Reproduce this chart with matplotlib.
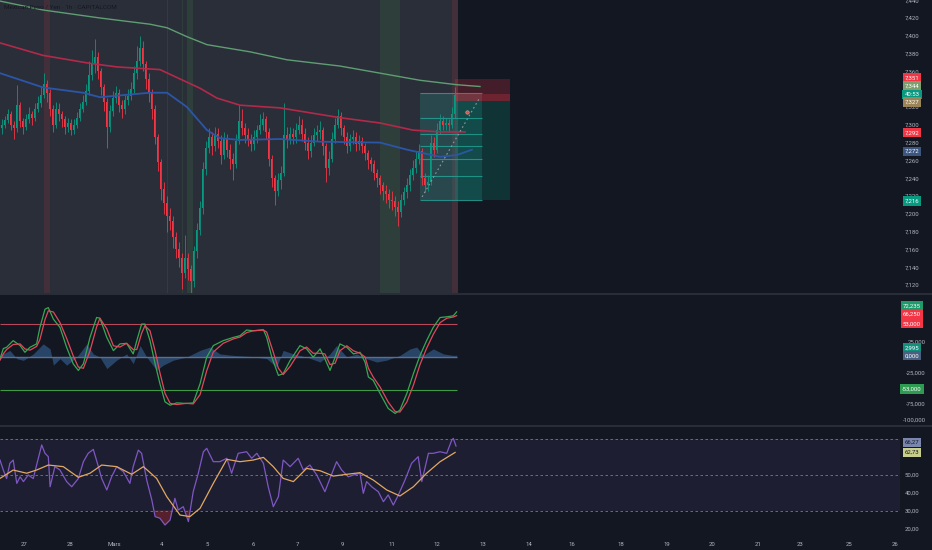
import matplotlib
matplotlib.use("Agg")
import matplotlib.pyplot as plt
import matplotlib.transforms as mtransforms
from matplotlib.lines import Line2D
from matplotlib.ticker import FuncFormatter
import numpy as np

plt.rcParams['font.family'] = ['Roboto', 'DejaVu Sans']

# ---- price candles (one candle per step, x = candle index) ----
first_open = 7.296
closes = [
    7.300, 7.305, 7.312, 7.300, 7.296, 7.322, 7.304, 7.298, 7.306, 7.312,
    7.308, 7.318, 7.325, 7.333, 7.346, 7.336, 7.318, 7.300, 7.318, 7.312,
    7.306, 7.298, 7.302, 7.294, 7.300, 7.308, 7.318, 7.326, 7.338, 7.356,
    7.368, 7.376, 7.360, 7.342, 7.326, 7.298, 7.316, 7.330, 7.336, 7.322,
    7.318, 7.328, 7.332, 7.340, 7.358, 7.372, 7.386, 7.368, 7.352, 7.336,
    7.318, 7.286, 7.258, 7.228, 7.212, 7.198, 7.192, 7.174, 7.160, 7.150,
    7.134, 7.150, 7.138, 7.124, 7.158, 7.182, 7.206, 7.250, 7.274, 7.286,
    7.276, 7.290, 7.282, 7.266, 7.284, 7.272, 7.262, 7.256, 7.282, 7.304,
    7.296, 7.288, 7.284, 7.278, 7.286, 7.294, 7.300, 7.306, 7.292, 7.262,
    7.240, 7.226, 7.238, 7.246, 7.288, 7.284, 7.290, 7.286, 7.294, 7.300,
    7.290, 7.280, 7.270, 7.280, 7.288, 7.292, 7.294, 7.276, 7.252, 7.262,
    7.284, 7.300, 7.310, 7.296, 7.286, 7.276, 7.284, 7.286, 7.278, 7.282,
    7.276, 7.268, 7.260, 7.256, 7.246, 7.240, 7.232, 7.226, 7.222, 7.216,
    7.214, 7.208, 7.202, 7.216, 7.224, 7.232, 7.244, 7.252, 7.262, 7.270,
    7.240, 7.232, 7.236, 7.280, 7.272, 7.294, 7.304, 7.300, 7.302, 7.300,
    7.312, 7.334,
]
highs = [
    7.306, 7.310, 7.318, 7.315, 7.304, 7.345, 7.326, 7.308, 7.312, 7.320,
    7.316, 7.324, 7.332, 7.342, 7.358, 7.350, 7.340, 7.322, 7.326, 7.324,
    7.316, 7.310, 7.308, 7.306, 7.306, 7.314, 7.324, 7.334, 7.346, 7.372,
    7.384, 7.396, 7.382, 7.364, 7.346, 7.330, 7.322, 7.338, 7.344, 7.340,
    7.328, 7.334, 7.340, 7.348, 7.366, 7.388, 7.400, 7.394, 7.372, 7.358,
    7.340, 7.322, 7.290, 7.262, 7.236, 7.220, 7.206, 7.198, 7.180, 7.168,
    7.156, 7.176, 7.156, 7.142, 7.164, 7.190, 7.214, 7.258, 7.282, 7.296,
    7.292, 7.298, 7.296, 7.288, 7.292, 7.290, 7.278, 7.268, 7.290, 7.322,
    7.318, 7.302, 7.296, 7.290, 7.294, 7.300, 7.312, 7.314, 7.310, 7.296,
    7.266, 7.244, 7.246, 7.254, 7.324, 7.298, 7.298, 7.296, 7.302, 7.310,
    7.306, 7.296, 7.286, 7.288, 7.296, 7.300, 7.304, 7.298, 7.280, 7.270,
    7.292, 7.308, 7.318, 7.314, 7.300, 7.292, 7.290, 7.294, 7.292, 7.288,
    7.286, 7.280, 7.272, 7.264, 7.260, 7.250, 7.244, 7.236, 7.232, 7.228,
    7.226, 7.220, 7.214, 7.222, 7.230, 7.240, 7.250, 7.260, 7.270, 7.278,
    7.274, 7.246, 7.244, 7.288, 7.286, 7.302, 7.312, 7.310, 7.308, 7.306,
    7.320, 7.342,
]
lows = [
    7.290, 7.296, 7.302, 7.294, 7.284, 7.292, 7.298, 7.290, 7.294, 7.302,
    7.300, 7.304, 7.314, 7.320, 7.330, 7.326, 7.310, 7.292, 7.296, 7.304,
    7.298, 7.290, 7.292, 7.288, 7.290, 7.296, 7.304, 7.314, 7.322, 7.334,
    7.350, 7.358, 7.352, 7.334, 7.316, 7.274, 7.292, 7.310, 7.324, 7.314,
    7.308, 7.312, 7.322, 7.328, 7.336, 7.352, 7.366, 7.360, 7.340, 7.326,
    7.306, 7.278, 7.248, 7.216, 7.200, 7.180, 7.182, 7.162, 7.150, 7.140,
    7.116, 7.128, 7.126, 7.104, 7.118, 7.150, 7.176, 7.200, 7.244, 7.268,
    7.266, 7.270, 7.274, 7.256, 7.262, 7.264, 7.250, 7.238, 7.252, 7.278,
    7.288, 7.280, 7.276, 7.270, 7.272, 7.280, 7.290, 7.294, 7.284, 7.254,
    7.230, 7.210, 7.220, 7.228, 7.242, 7.274, 7.278, 7.278, 7.280, 7.290,
    7.282, 7.272, 7.262, 7.264, 7.276, 7.282, 7.284, 7.266, 7.236, 7.244,
    7.258, 7.280, 7.296, 7.288, 7.278, 7.268, 7.270, 7.278, 7.270, 7.272,
    7.268, 7.260, 7.250, 7.248, 7.238, 7.230, 7.222, 7.216, 7.212, 7.206,
    7.204, 7.198, 7.186, 7.196, 7.210, 7.218, 7.226, 7.238, 7.246, 7.256,
    7.232, 7.224, 7.226, 7.232, 7.264, 7.268, 7.290, 7.294, 7.294, 7.292,
    7.296, 7.308,
]

# moving averages on the price pane
green_ma_x = [-0.5, 13.8, 32.8, 49.5, 55.2, 61.8, 68.5, 82.8, 95.2, 112.8, 126.2, 139.5, 151.8, 159.5]
green_ma = [7.439, 7.429, 7.420, 7.413, 7.409, 7.399, 7.390, 7.382, 7.373, 7.366, 7.358, 7.350, 7.345, 7.343]
red_ma_x = [-0.5, 13.8, 29.5, 38.5, 52.8, 66.2, 71.8, 79.5, 92.8, 112.8, 126.2, 137.2, 146.2, 154.5]
red_ma = [7.392, 7.378, 7.369, 7.365, 7.362, 7.341, 7.330, 7.322, 7.319, 7.308, 7.302, 7.294, 7.292, 7.292]
blue_ma_x = [-0.5, 13.8, 27.2, 32.8, 49.5, 55.2, 61.8, 68.5, 72.8, 79.5, 92.8, 106.2, 126.2, 135.2,
             146.2, 151.8, 156.8]
blue_ma = [7.358, 7.342, 7.336, 7.331, 7.336, 7.336, 7.320, 7.294, 7.285, 7.283, 7.284, 7.281, 7.280,
           7.272, 7.264, 7.266, 7.272]

# background highlights (start, end, kind)
bg_span = (-0.5, 152.2)
bands = [(14.2, 16.2, 'red'), (55.0, 55.4, 'green'), (60.0, 60.4, 'green'), (61.8, 63.8, 'green'),
         (126.2, 132.8, 'green'), (150.2, 152.2, 'red')]

# drawings: short position + fib retracement
pos_x = (151.2, 169.5)
pos_stop, pos_entry, pos_target, last_price = 7.351, 7.327, 7.216, 7.335
fib_x = (139.5, 160.2)
fib_levels = [7.336, 7.308, 7.290, 7.276, 7.262, 7.242, 7.216]
trend_x = [140.2, 159.5]
trend_y = [7.219, 7.331]

# ---- WaveTrend pane ----
wt_x = [-0.5, 0.6, 1.7, 3.9, 6.2, 7.8, 9.5, 11.7, 12.8, 14.5, 15.6, 17.3, 19.5, 21.7, 23.9, 25.6, 27.3,
        29.5, 31.7, 32.8, 35.1, 37.3, 39.5, 41.7, 43.9, 45.1, 46.7, 47.8, 49.5, 51.2, 52.8, 54.5, 56.2,
        58.4, 61.7, 63.9, 66.2, 68.4, 70.6, 73.9, 77.3, 79.5, 81.7, 83.9, 87.3, 88.4, 90.1, 92.3, 93.9,
        96.2, 99.5, 101.7, 103.9, 106.2, 107.8, 109.5, 111.2, 112.8, 115.1, 117.3, 119.5, 121.2, 122.3,
        123.9, 126.2, 128.9, 131.2, 132.8, 135.1, 137.3, 139.5, 141.7, 143.9, 146.2, 148.4, 150.6, 151.7]
wt1 = [-2.9, 13.5, 15.6, 26.2, 18.3, 7.6, 15.6, 21, 47.3, 76.5, 79, 60.6, 47.3, 15.6, -10.8, -21.4, -10.8,
       31.4, 63.2, 62.2, 31.4, 10.3, 21, 21.9, 5, 26.2, 52.7, 52.7, 26.2, -10.8, -42.5, -71.7, -77,
       -73.3, -74.3, -73.3, -42.5, -0.3, 18.3, 26.2, 31.4, 34.1, 43.2, 42, 43.7, 31.4, -0.3, -29.4, -26.7,
       -5.6, 18.3, 13, -0.3, 13, -2.9, -21.4, -0.3, 21, 15.6, 5, 7.6, -8.3, -32,
       -37.3, -58.4, -82.2, -90.2, -84.9, -58.4, -26.7, 2.4, 26.2, 47.3, 63.2, 64.3, 65.9, 72.2]
wt2 = [-5, 5, 12, 20, 21, 13, 11, 17, 28, 60, 74, 72, 55, 30, 2, -16, -18,
       10, 48, 62, 45, 18, 16, 22, 12, 12, 38, 50, 42, 10, -25, -58, -74,
       -76, -74, -75, -60, -22, 8, 22, 29, 32, 39, 42, 43, 40, 15, -18, -28,
       -15, 10, 16, 6, 6, 5, -12, -10, 10, 18, 10, 6, 0, -18,
       -32, -48, -72, -87, -88, -72, -45, -12, 14, 36, 55, 62, 64, 66.25]
vw_x = [-0.5, 2.8, 5.1, 7.3, 10.6, 13.9, 16.2, 17.3, 19.5, 21.7, 25.1, 28.4, 30.6, 32.8, 35.1, 38.4,
        41.7, 43.9, 46.2, 48.4, 51.7, 53.9, 57.3, 61.7, 66.2, 69.5, 72.8, 77.3, 82.8, 88.4, 91.7, 93.9,
        97.3, 101.7, 106.2, 109.5, 111.7, 115.1, 118.4, 121.7, 125.1, 128.4, 132.8, 136.2, 138.4, 140.6,
        143.9, 147.3, 150.6, 151.7]
vw = [2.6, 10.6, -2.6, -5.3, 5, 21, 13, -13, -2.6, -13, 0, 21, 5, 0, -18.5, -5,
      5, -10.6, 18.5, 0, -21, -13, -5, 0, 10.6, 16, 5, 2.6, 1, -2.6, -16, 10.6,
      5, 0, -8, 5, 18.5, 0, 5, -2.6, -8, -5, 2.6, 13, 16, 2.6,
      13, 5, 2.6, 3.0]
wt_ob, wt_os = 53, -53

# ---- RSI pane ----
rsi_x = [-0.5, 0.6, 1.7, 2.8, 3.9, 5.1, 6.2, 7.3, 8.9, 10.6, 11.7, 13.4, 14.5, 15.6, 16.2, 17.8, 19.5,
         21.7, 23.4, 25.6, 27.3, 28.9, 30.6, 32.3, 33.4, 35.1, 36.7, 38.4, 40.6, 42.8, 43.9, 45.6, 46.7,
         48.4, 50.1, 51.2, 52.8, 54.5, 56.2, 57.8, 58.9, 60.6, 62.3, 63.9, 65.6, 67.3, 68.4, 70.6, 72.8,
         75.1, 76.7, 78.9, 81.7, 83.4, 85.1, 87.3, 88.9, 90.6, 92.3, 93.9, 96.2, 98.9, 100.6, 102.8,
         105.1, 107.8, 109.5, 111.7, 113.4, 115.6, 117.3, 119.5, 120.6, 121.7, 123.4, 125.6, 127.3,
         128.9, 130.6, 132.3, 134.5, 136.7, 138.9, 140.1, 142.3, 143.9, 146.2, 148.4, 150.1, 150.6, 151.5]
rsi = [58.4, 52.8, 48, 56.6, 58.4, 45.3, 49, 46.3, 50, 48, 55.6, 66.9, 62.2, 60.3, 43.4, 54.7, 52.8,
       46.3, 43.4, 48, 57.5, 62.2, 64.4, 54.7, 48, 41.6, 49, 54.7, 51.9, 45.3, 54.7, 64, 62.2,
       47.2, 36, 26.6, 25.7, 21.9, 24.7, 36.9, 30.3, 32.2, 23.8, 40.6, 51, 63.1, 65, 57.5, 57.5,
       59.4, 51, 62.2, 63.1, 59.4, 62.2, 56.6, 43.4, 32.2, 37.8, 58.4, 54.7, 59.4, 52.8, 55.6,
       50, 40.6, 48.1, 57.5, 52.8, 49, 50, 51, 39.7, 46.3, 43.4, 40.6, 35,
       38.8, 33.1, 38.8, 47.2, 56.6, 60.3, 46.3, 62.2, 62.2, 63.1, 62.2, 69.7, 70.6, 66.3]
rsi_ma_x = [-0.5, 3.9, 8.4, 11.7, 15.6, 20.6, 25.6, 29.5, 33.4, 38.4, 43.4, 47.3, 51.7, 55.1, 59.5, 62.8,
            66.2, 70.6, 75.1, 79.5, 83.9, 87.3, 90.6, 93.9, 97.3, 101.7, 106.2, 110.6, 115.1, 119.5,
            123.9, 128.4, 132.8, 137.3, 141.7, 146.2, 151.2]
rsi_ma = [48.1, 52.8, 51, 52.8, 55.6, 54.7, 48.7, 51, 55.6, 54.7, 50.4, 54.7, 48.1, 37.8, 27.5, 26.6,
          31.3, 45.3, 58.8, 57.5, 58.4, 59.9, 54.7, 48.1, 46.3, 53.7, 52.4, 49.4, 50.4, 51.3,
          47.2, 41.6, 38.2, 43.4, 51, 57.5, 62.7]
rsi_levels = [70, 50, 30]

# time axis
day_pos = [7.5, 22.8, 37.5, 53.2, 68.5, 83.8, 98.8, 113.5, 130.2, 145.2, 160.5, 175.8, 190.2, 206.5,
           221.8, 236.8, 252.2, 266.2, 282.5, 297.8]
day_labels = ['27', '28', 'Mars', '4', '5', '6', '7', '9', '11', '12', '13', '14', '16', '18', '19',
              '20', '21', '23', '25', '26']

# ---- colours ----
BG = '#131722'
PANEL = '#2a2e39'
UP = '#089981'
DOWN = '#f23645'
TXT = '#b2b5be'
FS = 4.3

W, H = 932, 550
fig = plt.figure(figsize=(W / 100, H / 100), dpi=100, facecolor=BG)


def pane(y0, y1):
    a = fig.add_axes([0, 1 - y1 / H, 900 / W, (y1 - y0) / H])
    a.set_facecolor(BG)
    for s in a.spines.values():
        s.set_visible(False)
    a.set_xlim(-0.5, 299.5)
    a.set_xticks([])
    a.yaxis.tick_right()
    a.tick_params(axis='y', length=0, labelsize=FS, labelcolor=TXT)
    return a


def right_labels(ax, edge_px, fmt):
    # tick labels right-aligned so they end at edge_px (pixels from the plot's right side)
    ax.yaxis.set_major_formatter(FuncFormatter(lambda v, p: fmt.format(v).replace('.', ',')))
    ax.tick_params(axis='y', pad=edge_px * 0.72)
    for tk in ax.yaxis.get_major_ticks():
        tk.label2.set_horizontalalignment('right')


ax_p = pane(0, 293)
ax_w = pane(295, 425)
ax_r = pane(427, 536)

ax_p.set_ylim(7.111, 7.4402)
ax_w.set_ylim(-108.7, 99.2)
ax_r.set_ylim(15.7, 77.0)


def tag(ax, y, text, bg, fg='#ffffff'):
    tr = mtransforms.blended_transform_factory(ax.transAxes, ax.transData)
    ax.text(912 / 900, y, text, transform=tr, ha='center', va='center', fontsize=FS, color=fg,
            clip_on=False, zorder=10,
            bbox=dict(boxstyle='square,pad=0.35', fc=bg, ec='none'))


# ---- price pane ----
ax_p.axvspan(*bg_span, color=PANEL, lw=0, zorder=0)
for x0, x1, kind in bands:
    ax_p.axvspan(x0, x1, color=DOWN if kind == 'red' else '#4caf50', alpha=0.13, lw=0, zorder=0.5)

c = np.array(closes)
o = np.array([first_open] + closes[:-1])
xi = np.arange(len(c))
col = np.where(c >= o, UP, DOWN)
ax_p.vlines(xi, lows, highs, colors=col, lw=0.6, zorder=3)
ax_p.bar(xi, np.maximum(np.abs(c - o), 0.0008), bottom=np.minimum(o, c), width=0.62,
         color=col, lw=0, zorder=3)

ax_p.plot(green_ma_x, green_ma, color='#5f9e72', lw=1.0, zorder=4)
ax_p.plot(red_ma_x, red_ma, color='#b3294a', lw=1.2, zorder=4)
ax_p.plot(blue_ma_x, blue_ma, color='#2b56a8', lw=1.3, zorder=4)

# fib retracement
for top, bot in zip(fib_levels[:-1], fib_levels[1:]):
    ax_p.fill_between(fib_x, bot, top, color='#26a69a', alpha=0.22, lw=0, zorder=2)
for i, lv in enumerate(fib_levels):
    ax_p.hlines(lv, *fib_x, color='#787b86' if i == 0 else '#26a69a', lw=0.8, alpha=0.8, zorder=2)
ax_p.plot(trend_x, trend_y, color='#9598a1', lw=0.8, ls=(0, (1.5, 2.5)), zorder=5)

# short position tool
ax_p.fill_between(pos_x, pos_entry, pos_stop, color=DOWN, alpha=0.22, lw=0, zorder=2)
ax_p.fill_between(pos_x, pos_entry, last_price, color=DOWN, alpha=0.25, lw=0, zorder=2)
ax_p.fill_between(pos_x, pos_target, pos_entry, color=UP, alpha=0.22, lw=0, zorder=2)
ax_p.plot([155.2], [7.314], 'o', ms=2.5, color='#d9534f', mec='#f4a090', mew=0.4, zorder=6)

ax_p.set_yticks(np.arange(7.12, 7.441, 0.02))
right_labels(ax_p, 19, '{:.3f}')

tag(ax_p, 7.353, '7,351', DOWN)
tag(ax_p, 7.3436, '7,344', '#7f9e70')
tag(ax_p, 7.3343, '40:53', UP)
tag(ax_p, 7.3256, '7,327', '#9a8458')
tag(ax_p, 7.2911, '7,292', DOWN)
tag(ax_p, 7.2702, '7,272', '#3c5680')
tag(ax_p, 7.2144, '7,216', UP)

fig.text(4 / W, 1 - 7 / H, 'Mexican Peso / Yen · 1h · CAPITALCOM', color='#15181f',
         fontsize=4.6, va='center', ha='left')

# ---- WaveTrend pane ----
end_x = wt_x[-1]
ax_w.fill_between(vw_x, 0, vw, color='#3a6aa0', alpha=0.55, lw=0, zorder=2)
ax_w.hlines(0, -0.5, end_x, color='#5b7090', lw=1.0, zorder=3)
ax_w.hlines(wt_ob, -0.5, end_x, color='#b8475a', lw=0.8, zorder=3)
ax_w.hlines(wt_os, -0.5, end_x, color='#3d9b45', lw=0.8, zorder=3)
ax_w.plot(wt_x, wt1, color='#36a852', lw=0.9, zorder=4)
ax_w.plot(wt_x, wt2, color='#e0485a', lw=0.9, zorder=5)
ax_w.set_yticks([-100, -75, -25, 25])
right_labels(ax_w, 26, '{:.3f}')
tag(ax_w, 82.2, '72,235', '#1f9a6a')
tag(ax_w, 67.9, '66,250', DOWN)
tag(ax_w, 53.2, '53,000', DOWN)
tag(ax_w, 14.6, '2,995', '#138f7e')
tag(ax_w, 1.9, '0,000', '#4a6080')
tag(ax_w, -51.1, '-53,000', '#2e9a52')

# ---- RSI pane ----
ax_r.axhspan(rsi_levels[2], rsi_levels[0], color='#7e57c2', alpha=0.11, lw=0, zorder=1)
for lv in rsi_levels:
    ax_r.axhline(lv, color='#787b86', lw=0.6, ls=(0, (3, 3)), zorder=2)
ra = np.array(rsi)
ax_r.fill_between(rsi_x, ra, rsi_levels[2], where=ra < rsi_levels[2], interpolate=True,
                  color=DOWN, alpha=0.3, lw=0, zorder=2)
ax_r.plot(rsi_x, rsi, color='#7e57c2', lw=0.9, zorder=3)
ax_r.plot(rsi_ma_x, rsi_ma, color='#e2a862', lw=0.9, zorder=4)
ax_r.set_yticks([20, 30, 40, 50])
right_labels(ax_r, 19, '{:.2f}')
tag(ax_r, 68.4, '66,27', '#7a86ad', '#131722')
tag(ax_r, 62.6, '62,73', '#c8cf8c', '#131722')

ax_r.set_xticks(day_pos)
ax_r.set_xticklabels(day_labels)
ax_r.tick_params(axis='x', length=0, pad=4, labelsize=FS, labelcolor=TXT)

# pane separators
for yp in (294, 426):
    fig.add_artist(Line2D([0, 1], [1 - yp / H] * 2, transform=fig.transFigure, color='#2a2e39', lw=1.4))

fig.savefig('out.png', dpi=100, facecolor=BG)
